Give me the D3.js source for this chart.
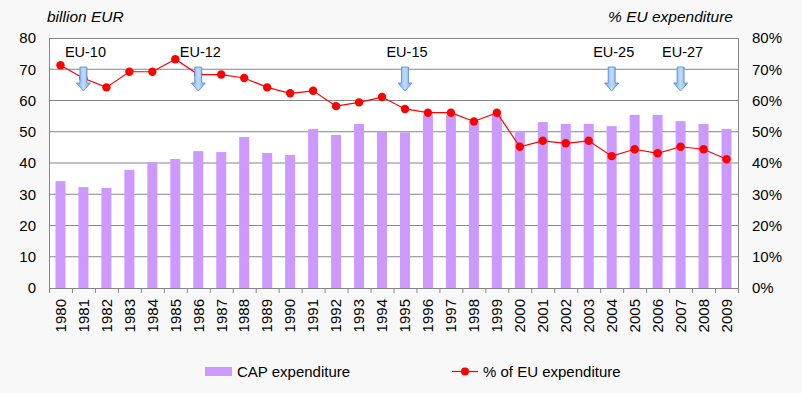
<!DOCTYPE html>
<html>
<head>
<meta charset="utf-8">
<script src="https://cdn.jsdelivr.net/npm/d3@7"></script>
<style>
	body{margin:0;background:#f8f8f8;}
	text{font-family:"Liberation Sans",Arial,sans-serif;fill:#000;}
</style>
</head>
<body>
<svg id="chart" width="802" height="393"></svg>
<script>

var years = ["1980","1981","1982","1983","1984","1985","1986","1987","1988","1989",
	"1990","1991","1992","1993","1994","1995","1996","1997","1998","1999",
	"2000","2001","2002","2003","2004","2005","2006","2007","2008","2009"];

// billion EUR
var capExpenditure = [34.2,32.3,32.0,37.8,40.2,41.3,43.8,43.5,48.3,43.2,
	42.6,50.9,49.0,52.5,49.9,49.8,55.4,55.4,53.4,55.4,
	50.2,53.1,52.5,52.5,51.8,55.4,55.4,53.4,52.5,50.9];

// % of EU expenditure
var shareOfEU = [71.3,67.1,64.2,69.2,69.2,73.2,68.3,68.3,67.2,64.2,
	62.3,63.1,58.2,59.4,61.1,57.3,56.1,56.1,53.3,56.1,
	45.2,47.1,46.3,47.1,42.2,44.4,43.1,45.2,44.4,41.2];

var enlargementYears = ["1981","1986","1995","2004","2007"];
var enlargementLabels = ["EU-10","EU-12","EU-15","EU-25","EU-27"];

var leftTicks = [0,10,20,30,40,50,60,70,80];
var rightTicks = [0,10,20,30,40,50,60,70,80];

var margin = {left:49, top:38, right:64, bottom:105};
var W = 802, H = 393;
var plotW = W - margin.left - margin.right;
var plotH = H - margin.top - margin.bottom;

var svg = d3.select("#chart");

var xOuter = d3.scaleBand().domain(years).range([margin.left, margin.left+plotW]);
var y = d3.scaleLinear().domain([0,80]).range([margin.top+plotH, margin.top]);
var yR = d3.scaleLinear().domain([0,80]).range([margin.top+plotH, margin.top]);

// plot area
svg.append("rect")
	.attr("x", margin.left).attr("y", margin.top)
	.attr("width", plotW).attr("height", plotH)
	.attr("fill", "#fff");

// gridlines
svg.append("g").selectAll("line")
	.data(leftTicks.filter(function(d){ return d>0 && d<80; }))
	.enter().append("line")
	.attr("x1", margin.left).attr("x2", margin.left+plotW)
	.attr("y1", function(d){ return y(d); }).attr("y2", function(d){ return y(d); })
	.attr("stroke", "#868686").attr("stroke-width", 1);

// bars
svg.append("g").selectAll("rect")
	.data(capExpenditure)
	.enter().append("rect")
	.attr("x", function(d,i){ return xOuter(years[i]) + xOuter.bandwidth()/2 - 5; })
	.attr("width", 10)
	.attr("y", function(d){ return y(d); })
	.attr("height", function(d){ return y(0) - y(d); })
	.attr("fill", "#cc99ff");

// border
svg.append("rect")
	.attr("x", margin.left+0.5).attr("y", margin.top+0.5)
	.attr("width", plotW).attr("height", plotH)
	.attr("fill", "none").attr("stroke", "#868686");

// left axis
var leftAxis = d3.axisLeft(y).tickValues(leftTicks).tickSize(0).tickPadding(13);
var gL = svg.append("g").attr("transform", "translate("+margin.left+",0)").call(leftAxis);
gL.select(".domain").remove();
gL.selectAll("text").style("font-size","15px");

// right axis
var rightAxis = d3.axisRight(yR).tickValues(rightTicks).tickSize(0).tickPadding(14)
	.tickFormat(function(d){ return d+"%"; });
var gR = svg.append("g").attr("transform", "translate("+(margin.left+plotW)+",0)").call(rightAxis);
gR.select(".domain").remove();
gR.selectAll("text").style("font-size","15px");

// bottom axis
var bottomAxis = d3.axisBottom(xOuter).tickSize(0).tickPadding(4);
var gB = svg.append("g").attr("transform", "translate(0,"+(margin.top+plotH)+")").call(bottomAxis);
gB.select(".domain").remove();
gB.selectAll("text")
	.style("font-size","15px")
	.attr("text-anchor","end")
	.attr("transform","rotate(-90)")
	.attr("x", -11).attr("y", 0).attr("dy","0.35em");
// tick marks between categories
svg.append("g").selectAll("line")
	.data(years)
	.enter().append("line")
	.attr("x1", function(d){ return xOuter(d)+0.5; }).attr("x2", function(d){ return xOuter(d)+0.5; })
	.attr("y1", margin.top+plotH).attr("y2", margin.top+plotH+5)
	.attr("stroke","#868686");
svg.append("line")
	.attr("x1", margin.left+plotW+0.5).attr("x2", margin.left+plotW+0.5)
	.attr("y1", margin.top+plotH).attr("y2", margin.top+plotH+5)
	.attr("stroke","#868686");

// line
var line = d3.line()
	.x(function(d,i){ return xOuter(years[i]) + xOuter.bandwidth()/2; })
	.y(function(d){ return yR(d); });

svg.append("path")
	.datum(shareOfEU)
	.attr("d", line)
	.attr("fill","none").attr("stroke","#ff0000").attr("stroke-width",1.2);

svg.append("g").selectAll("circle")
	.data(shareOfEU)
	.enter().append("circle")
	.attr("cx", function(d,i){ return xOuter(years[i]) + xOuter.bandwidth()/2; })
	.attr("cy", function(d){ return yR(d); })
	.attr("r", 4.2)
	.attr("fill","#ff0000");

// enlargement arrows
var defs = svg.append("defs");
var grad = defs.append("linearGradient").attr("id","arrowGrad").attr("x1","0").attr("x2","1");
grad.append("stop").attr("offset","0%").attr("stop-color","#6fa6f0");
grad.append("stop").attr("offset","50%").attr("stop-color","#c4dcfb");
grad.append("stop").attr("offset","100%").attr("stop-color","#6fa6f0");

var arrowGroups = svg.append("g").selectAll("g")
	.data(enlargementYears)
	.enter().append("g")
	.attr("transform", function(d){ return "translate("+(xOuter(d)+xOuter.bandwidth()/2)+",0)"; });

arrowGroups.append("path")
	.attr("d", "M-3.5,67 L3.5,67 L3.5,83 L7,83 L0,91 L-7,83 L-3.5,83 Z")
	.attr("fill","url(#arrowGrad)")
	.attr("stroke","#4f86d6").attr("stroke-width",0.8);

arrowGroups.append("text")
	.attr("x", 2).attr("y", 57)
	.attr("text-anchor","middle")
	.style("font-size","14.5px")
	.text(function(d,i){ return enlargementLabels[i]; });

// axis titles
svg.append("text")
	.attr("x", 47).attr("y", 22)
	.style("font-size","15.5px").style("font-style","italic")
	.text("billion EUR");
svg.append("text")
	.attr("x", 733).attr("y", 22)
	.attr("text-anchor","end")
	.style("font-size","15.5px").style("font-style","italic")
	.text("% EU expenditure");

// legend
svg.append("rect")
	.attr("x", 205).attr("y", 367).attr("width", 27).attr("height", 9)
	.attr("fill","#cc99ff");
svg.append("text")
	.attr("x", 237).attr("y", 377)
	.style("font-size","15px")
	.text("CAP expenditure");

svg.append("line")
	.attr("x1", 452).attr("x2", 478).attr("y1", 371.5).attr("y2", 371.5)
	.attr("stroke","#ff0000").attr("stroke-width",1.2);
svg.append("circle")
	.attr("cx", 465).attr("cy", 371.5).attr("r", 4)
	.attr("fill","#ff0000");
svg.append("text")
	.attr("x", 483).attr("y", 377)
	.style("font-size","15px")
	.text("% of EU expenditure");

</script>
</body>
</html>
